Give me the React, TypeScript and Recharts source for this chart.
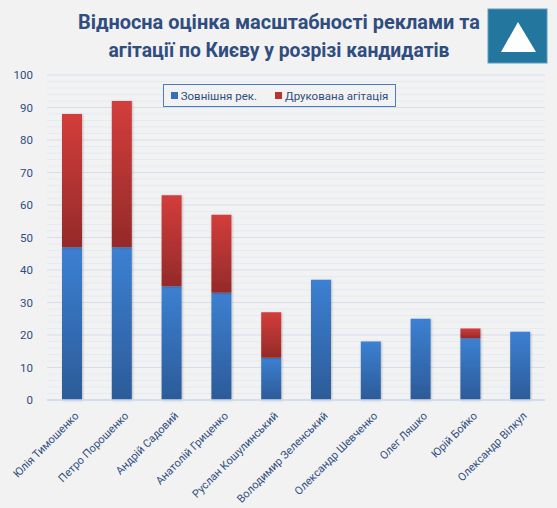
import React from "react";
import { BarChart, Bar, XAxis, YAxis, CartesianGrid } from "recharts";

const candidates = [
  "Юлія Тимошенко",
  "Петро Порошенко",
  "Андрій Садовий",
  "Анатолій Гриценко",
  "Руслан Кошулинський",
  "Володимир Зеленський",
  "Олександр Шевченко",
  "Олег Ляшко",
  "Юрій Бойко",
  "Олександр Вілкул",
];
const outdoor = [47, 47, 35, 33, 13, 37, 18, 25, 19, 21];
const printed = [41, 45, 28, 24, 14, 0, 0, 0, 3, 0];
const yTicks = [0, 10, 20, 30, 40, 50, 60, 70, 80, 90, 100];
const minorTicks = [2, 4, 6, 8, 12, 14, 16, 18, 22, 24, 26, 28, 32, 34, 36, 38, 42, 44, 46, 48, 52, 54, 56, 58, 62, 64, 66, 68, 72, 74, 76, 78, 82, 84, 86, 88, 92, 94, 96, 98];
const seriesNames = ["Зовнішня рек.", "Друкована агітація"];
const titleLines = ["Відносна оцінка масштабності реклами та", "агітації по Києву у розрізі кандидатів"];

const data = candidates.map((name, i) => ({ name, outdoor: outdoor[i], printed: printed[i] }));

const FONT = "Roboto, 'Open Sans', sans-serif";
const TEXT = "#2f4d7f";
const Y_MIN = yTicks[0];
const Y_MAX = yTicks[yTicks.length - 1];

const minorGen = (args: any) => {
  const { yAxis, offset } = args || {};
  const s = yAxis && yAxis.scale;
  if (typeof s === "function") return minorTicks.map((v) => s(v));
  if (s && typeof s.map === "function") return minorTicks.map((v) => s.map(v));
  const top = offset.top;
  const h = offset.height;
  return minorTicks.map((v) => top + h * (1 - (v - Y_MIN) / (Y_MAX - Y_MIN)));
};

const XTick = (props: any) => {
  const { x, y, payload } = props;
  return (
    <g transform={`translate(${x + 2},${y + 3})`}>
      <text
        x={0}
        y={0}
        dy="0.71em"
        textAnchor="end"
        transform="rotate(-45)"
        fill={TEXT}
        fontSize={11}
        fontFamily={FONT}
      >
        {payload.value}
      </text>
    </g>
  );
};

const LegendBox = () => (
  <div
    style={{
      position: "absolute",
      left: 163,
      top: 84,
      width: 231,
      height: 21,
      border: "1.5px solid #4a7cc0",
      display: "flex",
      alignItems: "center",
      justifyContent: "center",
      gap: 18,
      fontFamily: FONT,
      fontSize: 11.5,
      color: TEXT,
      boxSizing: "content-box",
      background: "#f2f2f2",
    }}
  >
    <span style={{ display: "flex", alignItems: "center" }}>
      <span style={{ width: 7, height: 7, background: "#3570bd", marginRight: 3, display: "inline-block" }} />
      {seriesNames[0]}
    </span>
    <span style={{ display: "flex", alignItems: "center" }}>
      <span style={{ width: 7, height: 7, background: "#b73432", marginRight: 3, display: "inline-block" }} />
      {seriesNames[1]}
    </span>
  </div>
);

export default function App() {
  return (
    <div style={{ position: "absolute", left: 0, top: 0, width: 557, height: 508, background: "#f2f2f2" }}>
      <svg width={557} height={70} style={{ position: "absolute", left: 0, top: 0 }}>
        <text
          x={279}
          y={28.5}
          textAnchor="middle"
          fontFamily={FONT}
          fontWeight="bold"
          fontSize={21}
          fill={TEXT}
          textLength={402}
          lengthAdjust="spacingAndGlyphs"
        >
          {titleLines[0]}
        </text>
        <text
          x={279}
          y={57}
          textAnchor="middle"
          fontFamily={FONT}
          fontWeight="bold"
          fontSize={21}
          fill={TEXT}
          textLength={341}
          lengthAdjust="spacingAndGlyphs"
        >
          {titleLines[1]}
        </text>
        <rect x={488} y={9} width={59} height={54} fill="#23779f" stroke="#5d9dbd" strokeWidth={1} />
        <polygon points="518,22 501,52 536,52" fill="#ffffff" />
      </svg>
      <BarChart
        width={557}
        height={508}
        data={data}
        margin={{ top: 75, right: 12, left: 0, bottom: 0 }}
        barSize={20}
        style={{ position: "absolute", left: 0, top: 0 }}
      >
        <defs>
          <linearGradient id="gBlue" x1="0" y1="0" x2="0" y2="1">
            <stop offset="0%" stopColor="#3c80d2" />
            <stop offset="100%" stopColor="#2c5b98" />
          </linearGradient>
          <linearGradient id="gRed" x1="0" y1="0" x2="0" y2="1">
            <stop offset="0%" stopColor="#d33d3b" />
            <stop offset="100%" stopColor="#942a29" />
          </linearGradient>
          <filter id="shadow" x="-20%" y="-5%" width="140%" height="110%">
            <feDropShadow dx="0.8" dy="0.5" stdDeviation="1" floodColor="#000" floodOpacity="0.25" />
          </filter>
        </defs>
        <CartesianGrid vertical={false} stroke="#e4ebf4" horizontalCoordinatesGenerator={minorGen} />
        <CartesianGrid vertical={false} stroke="#d4dfee" />
        <XAxis
          dataKey="name"
          interval={0}
          height={108}
          tickLine={false}
          axisLine={{ stroke: "#cddaf0", strokeWidth: 1.5 }}
          tick={<XTick />}
        />
        <YAxis
          width={47}
          domain={[Y_MIN, Y_MAX]}
          ticks={yTicks}
          interval={0}
          axisLine={false}
          tickLine={false}
          tick={{ fill: TEXT, fontSize: 11.5, fontFamily: FONT }}
          tickMargin={8}
        />
        <Bar dataKey="outdoor" name={seriesNames[0]} stackId="a" fill="url(#gBlue)" filter="url(#shadow)" isAnimationActive={false} />
        <Bar dataKey="printed" name={seriesNames[1]} stackId="a" fill="url(#gRed)" filter="url(#shadow)" isAnimationActive={false} />
      </BarChart>
      <LegendBox />
    </div>
  );
}
